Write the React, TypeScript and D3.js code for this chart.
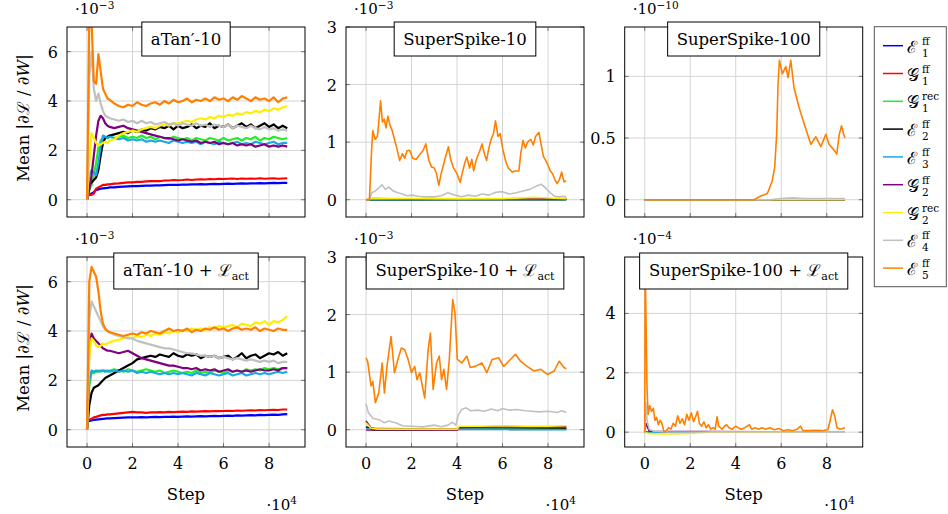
import React, { useLayoutEffect, useRef, useState } from "react";
import * as d3 from "d3";

// ---------- data ----------
const STEPS = [0, 0.1, 0.2, 0.3, 0.4, 0.5, 0.6, 0.7, 0.8, 0.9, 1.0, 1.2, 1.4, 1.6, 1.8, 2.0, 2.2, 2.4, 2.6, 2.8, 3.0, 3.2, 3.4, 3.6, 3.8, 4.0, 4.2, 4.4, 4.6, 4.8, 5.0, 5.2, 5.4, 5.6, 5.8, 6.0, 6.2, 6.4, 6.6, 6.8, 7.0, 7.2, 7.4, 7.6, 7.8, 8.0, 8.2, 8.4, 8.6, 8.8];

const SERIES_LETTERS = ["ℰ", "𝒢", "𝒢", "ℰ", "ℰ", "𝒢", "𝒢", "ℰ", "ℰ"];
const SERIES_SUP = ["ff", "ff", "rec", "ff", "ff", "ff", "rec", "ff", "ff"];
const SERIES_SUB = ["1", "1", "1", "2", "3", "2", "2", "4", "5"];
const SERIES_COLORS = ["#0000ff", "#ff0000", "#22ee22", "#000000", "#1aa7e8", "#800080", "#ffee00", "#c0c0c0", "#ff8000"];

const X_TICKS = [0, 2, 4, 6, 8];

// aTan'-10 (values on STEPS, ×1e-3)
const A1_E1 = [0.15, 0.2, 0.25, 0.3, 0.4, 0.42, 0.45, 0.46, 0.47, 0.48, 0.5, 0.5, 0.52, 0.53, 0.54, 0.55, 0.55, 0.56, 0.57, 0.57, 0.58, 0.58, 0.59, 0.6, 0.6, 0.6, 0.61, 0.61, 0.62, 0.62, 0.63, 0.62, 0.63, 0.64, 0.63, 0.64, 0.65, 0.64, 0.65, 0.66, 0.65, 0.66, 0.66, 0.67, 0.66, 0.67, 0.68, 0.67, 0.68, 0.68];
const A1_G1 = [0.15, 0.2, 0.2, 0.25, 0.45, 0.5, 0.55, 0.6, 0.6, 0.62, 0.62, 0.65, 0.66, 0.68, 0.7, 0.7, 0.72, 0.72, 0.74, 0.75, 0.76, 0.75, 0.78, 0.78, 0.8, 0.79, 0.8, 0.82, 0.8, 0.82, 0.83, 0.82, 0.84, 0.83, 0.85, 0.84, 0.85, 0.86, 0.84, 0.86, 0.85, 0.86, 0.85, 0.87, 0.85, 0.86, 0.87, 0.85, 0.86, 0.87];
const A1_G1R = [0, 0.4, 0.6, 1.0, 1.5, 2.1, 2.4, 2.5, 2.55, 2.5, 2.55, 2.5, 2.55, 2.6, 2.5, 2.55, 2.5, 2.6, 2.5, 2.55, 2.45, 2.55, 2.5, 2.45, 2.55, 2.5, 2.45, 2.5, 2.4, 2.5, 2.45, 2.4, 2.5, 2.45, 2.4, 2.5, 2.4, 2.45, 2.5, 2.4, 2.5, 2.45, 2.55, 2.4, 2.5, 2.45, 2.55, 2.5, 2.45, 2.5];
const A1_E2 = [0, 0.6, 0.7, 0.8, 0.9, 1.2, 1.8, 2.3, 2.5, 2.55, 2.6, 2.65, 2.7, 2.75, 2.7, 2.8, 2.75, 2.85, 2.8, 2.9, 2.85, 2.95, 2.9, 3.0, 2.85, 3.0, 2.9, 2.95, 3.05, 2.9, 3.0, 2.95, 3.1, 2.9, 3.0, 2.95, 3.05, 2.9, 3.0, 3.1, 2.95, 3.05, 2.9, 3.0, 3.1, 2.95, 3.05, 2.9, 3.0, 2.9];
const A1_E3 = [0, 1.0, 1.2, 1.1, 1.0, 1.5, 2.2, 2.6, 2.55, 2.5, 2.55, 2.5, 2.45, 2.5, 2.4, 2.45, 2.4, 2.45, 2.35, 2.4, 2.35, 2.4, 2.35, 2.3, 2.4, 2.35, 2.3, 2.35, 2.3, 2.35, 2.25, 2.35, 2.3, 2.25, 2.35, 2.3, 2.25, 2.3, 2.35, 2.25, 2.3, 2.25, 2.35, 2.3, 2.25, 2.3, 2.35, 2.25, 2.3, 2.3];
const A1_G2 = [0, 0.4, 1.0, 1.8, 2.6, 3.2, 3.4, 3.3, 3.1, 3.0, 2.95, 2.9, 2.95, 3.0, 2.9, 2.85, 2.8, 2.75, 2.7, 2.65, 2.6, 2.55, 2.5, 2.5, 2.45, 2.4, 2.45, 2.4, 2.35, 2.4, 2.3, 2.35, 2.3, 2.35, 2.25, 2.3, 2.25, 2.3, 2.2, 2.25, 2.2, 2.25, 2.15, 2.2, 2.25, 2.15, 2.2, 2.15, 2.2, 2.15];
const A1_G2R = [0, 1.5, 2.7, 2.5, 2.3, 2.2, 2.25, 2.3, 2.35, 2.3, 2.4, 2.45, 2.6, 2.7, 2.75, 2.8, 2.75, 2.85, 2.9, 2.95, 2.9, 3.0, 3.05, 3.0, 3.1, 3.1, 3.15, 3.2, 3.15, 3.25, 3.3, 3.25, 3.35, 3.3, 3.4, 3.35, 3.45, 3.4, 3.5, 3.45, 3.55, 3.5, 3.6, 3.55, 3.65, 3.6, 3.7, 3.65, 3.75, 3.8];
const A1_E4 = [0, 5.0, 6.0, 4.5, 4.0, 4.3, 3.9, 3.6, 3.4, 3.35, 3.3, 3.25, 3.2, 3.25, 3.15, 3.2, 3.1, 3.2, 3.1, 3.15, 3.05, 3.1, 3.15, 3.05, 3.1, 3.0, 3.1, 3.05, 3.0, 3.1, 3.0, 3.05, 2.95, 3.05, 3.0, 2.95, 3.05, 2.9, 3.0, 2.95, 2.9, 3.0, 2.9, 2.85, 2.95, 2.85, 2.9, 2.8, 2.85, 2.8];
const A1_E5 = [0, 7.4, 7.2, 4.8, 4.7, 5.9, 5.2, 4.5, 4.3, 4.1, 4.05, 3.9, 3.8, 3.75, 3.85, 3.8, 3.95, 3.85, 3.8, 3.9, 3.95, 3.85, 4.0, 3.9, 4.05, 3.95, 4.0, 4.1, 3.95, 4.05, 4.0, 4.1, 4.0, 4.15, 4.05, 4.1, 4.0, 4.15, 4.05, 4.2, 4.1, 4.0, 4.15, 4.05, 4.1, 4.0, 4.15, 3.95, 4.1, 4.15];

// aTan'-10 + L_act (values on STEPS, ×1e-3)
const A2_E1 = [0.35, 0.36, 0.38, 0.4, 0.41, 0.42, 0.43, 0.44, 0.45, 0.46, 0.46, 0.47, 0.48, 0.49, 0.5, 0.5, 0.5, 0.51, 0.5, 0.51, 0.52, 0.51, 0.52, 0.52, 0.53, 0.52, 0.53, 0.54, 0.53, 0.54, 0.55, 0.54, 0.55, 0.56, 0.55, 0.56, 0.57, 0.56, 0.58, 0.57, 0.58, 0.59, 0.58, 0.6, 0.59, 0.6, 0.61, 0.6, 0.62, 0.63];
const A2_G1 = [0.35, 0.4, 0.45, 0.5, 0.52, 0.55, 0.58, 0.6, 0.6, 0.62, 0.62, 0.64, 0.66, 0.68, 0.7, 0.72, 0.7, 0.7, 0.68, 0.7, 0.7, 0.71, 0.7, 0.72, 0.71, 0.72, 0.73, 0.72, 0.74, 0.73, 0.74, 0.75, 0.74, 0.76, 0.75, 0.76, 0.77, 0.76, 0.78, 0.77, 0.78, 0.79, 0.78, 0.8, 0.79, 0.8, 0.81, 0.8, 0.82, 0.82];
const A2_G1R = [0, 1.8, 2.3, 2.3, 2.35, 2.4, 2.35, 2.4, 2.4, 2.35, 2.4, 2.45, 2.4, 2.35, 2.45, 2.4, 2.35, 2.4, 2.45, 2.4, 2.35, 2.4, 2.3, 2.35, 2.4, 2.35, 2.3, 2.35, 2.3, 2.4, 2.3, 2.35, 2.3, 2.4, 2.35, 2.3, 2.4, 2.35, 2.4, 2.35, 2.45, 2.4, 2.45, 2.4, 2.5, 2.45, 2.5, 2.45, 2.5, 2.5];
const A2_E2 = [0, 1.0, 1.5, 1.7, 1.75, 1.8, 1.9, 2.0, 2.1, 2.15, 2.2, 2.3, 2.4, 2.5, 2.6, 2.7, 2.85, 2.9, 2.95, 3.0, 2.95, 3.05, 3.0, 2.95, 3.1, 3.0, 2.95, 3.05, 3.0, 3.05, 2.9, 3.0, 2.95, 3.0, 2.9, 2.95, 3.0, 2.85, 2.95, 3.1, 2.9, 3.0, 3.05, 2.9, 3.0, 3.1, 3.05, 3.15, 3.0, 3.1];
const A2_E3 = [0, 2.0, 2.4, 2.35, 2.4, 2.35, 2.4, 2.4, 2.35, 2.4, 2.35, 2.4, 2.35, 2.4, 2.35, 2.4, 2.3, 2.35, 2.3, 2.35, 2.3, 2.25, 2.3, 2.25, 2.3, 2.25, 2.3, 2.25, 2.2, 2.3, 2.25, 2.2, 2.3, 2.25, 2.2, 2.25, 2.3, 2.2, 2.25, 2.3, 2.2, 2.25, 2.3, 2.25, 2.3, 2.25, 2.3, 2.35, 2.3, 2.35];
const A2_G2 = [0, 3.3, 3.9, 3.7, 3.6, 3.5, 3.4, 3.3, 3.25, 3.2, 3.2, 3.15, 3.1, 3.15, 3.2, 3.1, 3.0, 2.9, 2.85, 2.8, 2.75, 2.7, 2.65, 2.6, 2.6, 2.55, 2.5, 2.5, 2.45, 2.5, 2.4, 2.45, 2.4, 2.45, 2.35, 2.4, 2.45, 2.35, 2.4, 2.35, 2.4, 2.35, 2.4, 2.45, 2.4, 2.4, 2.45, 2.4, 2.5, 2.5];
const A2_G2R = [0, 3.0, 3.7, 3.6, 3.4, 3.35, 3.4, 3.5, 3.45, 3.5, 3.55, 3.6, 3.65, 3.7, 3.75, 3.7, 3.8, 3.75, 3.85, 3.8, 3.9, 3.85, 3.95, 3.9, 4.0, 3.95, 4.05, 4.0, 4.1, 4.05, 4.1, 4.05, 4.15, 4.1, 4.2, 4.15, 4.2, 4.25, 4.15, 4.3, 4.25, 4.2, 4.35, 4.3, 4.4, 4.25, 4.4, 4.35, 4.45, 4.6];
const A2_E4 = [0, 4.5, 5.2, 5.0, 4.8, 4.6, 4.4, 4.2, 4.05, 4.0, 3.95, 3.85, 3.8, 3.75, 3.7, 3.7, 3.6, 3.55, 3.5, 3.45, 3.4, 3.35, 3.3, 3.3, 3.25, 3.2, 3.15, 3.1, 3.1, 3.05, 3.0, 3.0, 2.95, 3.0, 2.9, 2.95, 2.9, 2.85, 2.9, 2.85, 2.8, 2.85, 2.8, 2.75, 2.8, 2.75, 2.8, 2.7, 2.75, 2.75];
const A2_E5 = [0, 6.0, 6.6, 6.4, 6.2, 5.6, 4.8, 4.3, 4.1, 4.0, 3.95, 3.9, 3.85, 3.8, 3.85, 3.9, 3.85, 3.95, 3.9, 4.0, 3.95, 3.9, 4.0, 4.1, 4.0, 4.05, 4.0, 4.1, 3.95, 4.05, 4.0, 4.1, 4.05, 4.15, 4.05, 4.1, 4.0, 4.1, 4.15, 4.05, 4.1, 4.05, 4.15, 4.0, 4.1, 4.05, 4.0, 4.1, 4.05, 4.05];

// SuperSpike-10 ([step ×1e4, value ×1e-3])
const S1_E1 = [[0, 0], [4, 0.003], [8.8, 0.004]];
const S1_G1 = [[0, 0], [4, 0.004], [8.8, 0.005]];
const S1_G1R = [[0, 0], [4, 0.005], [8.8, 0.006]];
const S1_E2 = [[0, 0], [4, 0.004], [8.8, 0.005]];
const S1_E3 = [[0, 0], [4, 0.004], [8.8, 0.005]];
const S1_G2 = [[0, 0], [0.3, 0.02], [2, 0.01], [7.5, 0.02], [8.8, 0.01]];
const S1_G2R = [[0, 0], [0.2, 0.02], [2, 0.02], [4, 0.015], [6, 0.02], [7.5, 0.04], [8, 0.03], [8.8, 0.02]];
const S1_E4 = [[0, 0], [0.15, 0], [0.25, 0.12], [0.4, 0.15], [0.55, 0.2], [0.7, 0.26], [0.85, 0.18], [1.0, 0.22], [1.2, 0.15], [1.4, 0.12], [1.6, 0.1], [1.8, 0.07], [2.0, 0.08], [2.3, 0.06], [2.6, 0.05], [3.0, 0.05], [3.3, 0.07], [3.6, 0.12], [3.9, 0.08], [4.2, 0.05], [4.5, 0.08], [4.8, 0.06], [5.1, 0.1], [5.4, 0.08], [5.7, 0.13], [6.0, 0.14], [6.3, 0.1], [6.6, 0.12], [6.9, 0.15], [7.2, 0.18], [7.5, 0.24], [7.7, 0.27], [7.9, 0.2], [8.1, 0.12], [8.3, 0.06], [8.5, 0.05], [8.7, 0.06], [8.8, 0.04]];
const S1_E5 = [[0, 0], [0.15, 0], [0.25, 0.9], [0.3, 1.2], [0.4, 1.05], [0.5, 1.1], [0.55, 1.3], [0.64, 1.72], [0.72, 1.35], [0.8, 1.4], [0.88, 1.25], [0.96, 1.45], [1.05, 1.3], [1.15, 1.2], [1.25, 1.05], [1.35, 0.9], [1.48, 0.68], [1.6, 0.8], [1.7, 0.72], [1.8, 0.85], [1.92, 0.86], [2.05, 0.72], [2.2, 0.7], [2.35, 0.78], [2.5, 0.85], [2.63, 0.97], [2.75, 0.7], [2.88, 0.57], [3.0, 0.55], [3.1, 0.45], [3.2, 0.25], [3.3, 0.45], [3.4, 0.6], [3.5, 0.75], [3.62, 0.92], [3.72, 0.7], [3.85, 0.55], [4.0, 0.45], [4.14, 0.3], [4.25, 0.5], [4.35, 0.65], [4.43, 0.74], [4.55, 0.55], [4.65, 0.7], [4.73, 0.5], [4.85, 0.7], [5.0, 0.85], [5.1, 0.97], [5.2, 0.8], [5.3, 0.68], [5.4, 0.9], [5.5, 1.05], [5.6, 1.15], [5.69, 1.37], [5.8, 1.1], [5.9, 1.15], [6.0, 0.9], [6.13, 0.68], [6.25, 0.55], [6.43, 0.48], [6.55, 0.5], [6.72, 0.5], [6.8, 0.8], [6.9, 1.03], [7.0, 0.9], [7.1, 1.0], [7.24, 1.05], [7.35, 0.95], [7.45, 1.1], [7.6, 1.17], [7.7, 0.95], [7.8, 0.75], [7.9, 0.68], [8.0, 0.6], [8.1, 0.5], [8.2, 0.45], [8.3, 0.35], [8.4, 0.28], [8.5, 0.35], [8.6, 0.48], [8.7, 0.31], [8.8, 0.33]];

// SuperSpike-10 + L_act ([step ×1e4, value ×1e-3])
const S2_E1 = [[0, 0], [4.0, 0.0], [4.1, 0.02], [8.8, 0.03]];
const S2_G1 = [[0, 0], [4.0, 0.0], [4.1, 0.02], [8.8, 0.02]];
const S2_G1R = [[0, 0.02], [4.0, 0.01], [4.1, 0.03], [8.8, 0.03]];
const S2_E2 = [[0, 0.05], [0.3, 0.0], [8.8, 0.01]];
const S2_E3 = [[0, 0.02], [8.8, 0.0]];
const S2_G2 = [[0, 0.15], [0.2, 0.04], [0.5, 0.01], [4.0, 0.01], [4.1, 0.04], [6, 0.05], [8.8, 0.05]];
const S2_G2R = [[0, 0.12], [0.2, 0.03], [0.5, 0.01], [4.0, 0.01], [4.1, 0.06], [5, 0.06], [6, 0.07], [7, 0.06], [8, 0.06], [8.8, 0.07]];
const S2_E4 = [[0, 0.45], [0.1, 0.3], [0.3, 0.2], [0.6, 0.17], [0.8, 0.12], [1.0, 0.15], [1.3, 0.12], [1.6, 0.07], [2.0, 0.06], [2.5, 0.05], [3.0, 0.08], [3.3, 0.05], [3.6, 0.08], [3.8, 0.13], [3.95, 0.08], [4.05, 0.25], [4.2, 0.35], [4.4, 0.38], [4.6, 0.33], [4.9, 0.34], [5.2, 0.32], [5.5, 0.36], [5.8, 0.33], [6.0, 0.37], [6.3, 0.34], [6.6, 0.35], [7.0, 0.33], [7.3, 0.32], [7.6, 0.31], [8.0, 0.32], [8.4, 0.3], [8.6, 0.33], [8.8, 0.3]];
const S2_E5 = [[0, 1.25], [0.07, 1.19], [0.22, 0.76], [0.3, 0.84], [0.41, 0.47], [0.56, 0.64], [0.71, 1.16], [0.81, 0.64], [0.92, 1.1], [1.1, 1.62], [1.25, 0.99], [1.4, 1.22], [1.55, 1.42], [1.7, 1.39], [1.85, 1.22], [2.0, 0.99], [2.14, 1.1], [2.24, 0.87], [2.36, 0.99], [2.58, 0.55], [2.73, 1.39], [2.83, 1.68], [2.95, 0.7], [3.1, 1.16], [3.22, 1.28], [3.32, 0.87], [3.42, 1.05], [3.54, 0.7], [3.66, 1.22], [3.81, 2.26], [3.91, 2.03], [4.01, 1.22], [4.21, 1.16], [4.43, 1.28], [4.58, 1.08], [4.8, 1.1], [5.09, 1.16], [5.31, 0.99], [5.54, 1.22], [5.83, 1.25], [6.05, 1.1], [6.27, 1.19], [6.57, 1.31], [6.79, 1.19], [7.08, 1.1], [7.38, 1.02], [7.68, 1.05], [7.97, 0.96], [8.27, 1.02], [8.49, 1.19], [8.7, 1.08], [8.8, 1.06]];

// SuperSpike-100 ([step ×1e4, value ×1e-10])
const S3_ZERO = [[0, 0], [8.8, 0]];
const S3_E4 = [[0, 0], [5.5, 0], [6, 0.01], [6.5, 0.015], [7, 0.01], [8.8, 0.01]];
const S3_E5 = [[0, 0], [4.8, 0], [5.1, 0.03], [5.39, 0.05], [5.6, 0.15], [5.71, 0.26], [5.8, 0.53], [5.86, 0.94], [5.92, 1.13], [6.05, 1.02], [6.2, 1.08], [6.3, 0.99], [6.42, 1.13], [6.56, 0.91], [6.78, 0.75], [7.0, 0.62], [7.3, 0.45], [7.52, 0.51], [7.74, 0.43], [7.96, 0.53], [8.1, 0.45], [8.33, 0.4], [8.44, 0.37], [8.55, 0.53], [8.65, 0.6], [8.74, 0.53], [8.8, 0.5]];

// SuperSpike-100 + L_act ([step ×1e4, value ×1e-4])
const S4_ZERO = [[0, 0], [8.8, 0]];
const S4_G2 = [[0, 0], [0.05, 0.3], [0.2, 0.03], [8.8, 0]];
const S4_G2R = [[0, 0], [0.2, -0.05], [1, -0.06], [2, -0.04], [2.5, -0.02], [3, 0], [8.8, 0]];
const S4_E4 = [[0, 0], [0.05, 1.0], [0.1, 0.4], [0.2, 0.1], [0.4, 0.03], [1, 0.01], [8.8, 0.0]];
const S4_E5 = [[0, 0], [0.02, 5.8], [0.1, 1.5], [0.15, 0.6], [0.22, 0.9], [0.3, 0.7], [0.38, 0.8], [0.45, 0.4], [0.52, 0.5], [0.6, 0.25], [0.68, 0.4], [0.75, 0.3], [0.85, 0.0], [0.95, 0.05], [1.05, 0.15], [1.15, 0.1], [1.25, 0.3], [1.35, 0.2], [1.45, 0.55], [1.55, 0.3], [1.65, 0.45], [1.75, 0.25], [1.85, 0.6], [1.95, 0.4], [2.05, 0.65], [2.15, 0.35], [2.25, 0.55], [2.32, 0.7], [2.4, 0.3], [2.5, 0.2], [2.6, 0.35], [2.7, 0.15], [2.8, 0.25], [2.9, 0.1], [3.0, 0.15], [3.1, 0.1], [3.18, 0.52], [3.25, 0.2], [3.4, 0.1], [3.5, 0.2], [3.6, 0.25], [3.7, 0.15], [3.85, 0.1], [4.0, 0.2], [4.1, 0.15], [4.25, 0.1], [4.4, 0.15], [4.6, 0.25], [4.7, 0.1], [4.85, 0.15], [5.0, 0.1], [5.15, 0.15], [5.3, 0.1], [5.5, 0.15], [5.7, 0.08], [5.9, 0.12], [6.1, 0.05], [6.3, 0.08], [6.5, 0.05], [6.7, 0.1], [6.85, 0.2], [6.95, 0.05], [7.2, 0.05], [7.5, 0.06], [7.8, 0.05], [8.05, 0.08], [8.15, 0.4], [8.25, 0.75], [8.35, 0.55], [8.45, 0.15], [8.6, 0.1], [8.8, 0.15]];

const onSteps = (vals: number[]) => STEPS.map((s, i) => [s, vals[i]]);

const PANELS = [
  { title: "aTan′-10", act: false, exp: "−3", yDomain: [-0.7, 7.0], yTicks: [0, 2, 4, 6], yLabels: ["0", "2", "4", "6"], row: 0, col: 0, sw: 2.2,
    series: [A1_E1, A1_G1, A1_G1R, A1_E2, A1_E3, A1_G2, A1_G2R, A1_E4, A1_E5].map(onSteps) },
  { title: "SuperSpike-10", act: false, exp: "−3", yDomain: [-0.3, 3.0], yTicks: [0, 1, 2, 3], yLabels: ["0", "1", "2", "3"], row: 0, col: 1, sw: 1.6,
    series: [S1_E1, S1_G1, S1_G1R, S1_E2, S1_E3, S1_G2, S1_G2R, S1_E4, S1_E5] },
  { title: "SuperSpike-100", act: false, exp: "−10", yDomain: [-0.14, 1.4], yTicks: [0, 0.5, 1], yLabels: ["0", "0.5", "1"], row: 0, col: 2, sw: 1.6,
    series: [S3_ZERO, S3_ZERO, S3_ZERO, S3_ZERO, S3_ZERO, S3_ZERO, S3_ZERO, S3_E4, S3_E5] },
  { title: "aTan′-10 + ", act: true, exp: "−3", yDomain: [-0.7, 7.0], yTicks: [0, 2, 4, 6], yLabels: ["0", "2", "4", "6"], row: 1, col: 0, sw: 2.2,
    series: [A2_E1, A2_G1, A2_G1R, A2_E2, A2_E3, A2_G2, A2_G2R, A2_E4, A2_E5].map(onSteps) },
  { title: "SuperSpike-10 + ", act: true, exp: "−3", yDomain: [-0.3, 3.0], yTicks: [0, 1, 2, 3], yLabels: ["0", "1", "2", "3"], row: 1, col: 1, sw: 1.6,
    series: [S2_E1, S2_G1, S2_G1R, S2_E2, S2_E3, S2_G2, S2_G2R, S2_E4, S2_E5] },
  { title: "SuperSpike-100 + ", act: true, exp: "−4", yDomain: [-0.5, 5.9], yTicks: [0, 2, 4], yLabels: ["0", "2", "4"], row: 1, col: 2, sw: 1.6,
    series: [S4_ZERO, S4_ZERO, S4_ZERO, S4_ZERO, S4_ZERO, S4_G2, S4_G2R, S4_E4, S4_E5] },
];

// ---------- layout ----------
const W = 948, H = 514;
const COL_X = [67, 346, 624.7];
const ROW_Y = [27, 257];
const PW = 238, PH = 190;
const X_DOMAIN = [-0.88, 9.58];
const FONT = "'DejaVu Serif', serif";

function TitleBox({ cx, top, text, act }: { cx: number; top: number; text: string; act: boolean }) {
  const ref = useRef<SVGTextElement>(null);
  const [w, setW] = useState(120);
  useLayoutEffect(() => {
    if (ref.current) setW(ref.current.getBBox().width);
  }, [text]);
  const bw = w + 18;
  const bh = act ? 36 : 34;
  return (
    <g>
      <rect x={cx - bw / 2} y={top} width={bw} height={bh} fill="#fff" stroke="#000" strokeWidth={1} />
      <text ref={ref} x={cx} y={top + 23} textAnchor="middle" fontFamily={FONT} fontSize={16.5}>
        {text}
        {act && <tspan>ℒ</tspan>}
        {act && <tspan fontSize={11} dy={4}>act</tspan>}
      </text>
    </g>
  );
}

function Panel({ p, idx }: { p: any; idx: number }) {
  const x0 = COL_X[p.col], y0 = ROW_Y[p.row];
  const x = d3.scaleLinear().domain(X_DOMAIN).range([x0, x0 + PW]);
  const y = d3.scaleLinear().domain(p.yDomain).range([y0 + PH, y0]);
  const line = d3.line<number[]>().x(d => x(d[0])).y(d => y(d[1]));
  const clipId = `clip${idx}`;
  const tl = 4;
  return (
    <g>
      <defs>
        <clipPath id={clipId}>
          <rect x={x0} y={y0} width={PW} height={PH} />
        </clipPath>
      </defs>
      {X_TICKS.map(t => (
        <g key={"xg" + t}>
          <line x1={x(t)} x2={x(t)} y1={y0} y2={y0 + PH} stroke="#d4d4d4" strokeWidth={1} />
          <line x1={x(t)} x2={x(t)} y1={y0 + PH} y2={y0 + PH - tl} stroke="#777" strokeWidth={1} />
          <line x1={x(t)} x2={x(t)} y1={y0} y2={y0 + tl} stroke="#777" strokeWidth={1} />
        </g>
      ))}
      {p.yTicks.map((t: number, i: number) => (
        <g key={"yg" + t}>
          <line x1={x0} x2={x0 + PW} y1={y(t)} y2={y(t)} stroke="#d4d4d4" strokeWidth={1} />
          <line x1={x0} x2={x0 + tl} y1={y(t)} y2={y(t)} stroke="#777" strokeWidth={1} />
          <line x1={x0 + PW} x2={x0 + PW - tl} y1={y(t)} y2={y(t)} stroke="#777" strokeWidth={1} />
          <text x={x0 - 9} y={y(t) + 6} textAnchor="end" fontFamily={FONT} fontSize={16}>{p.yLabels[i]}</text>
        </g>
      ))}
      <g clipPath={`url(#${clipId})`}>
        {p.series.map((s: number[][], i: number) => (
          <path key={i} d={line(s) || ""} fill="none" stroke={SERIES_COLORS[i]} strokeWidth={p.sw} strokeLinejoin="round" />
        ))}
      </g>
      <rect x={x0} y={y0} width={PW} height={PH} fill="none" stroke="#000" strokeWidth={1} />
      <text x={x0 + 8} y={y0 - 13} fontFamily={FONT} fontSize={15}>
        ·10<tspan fontSize={10.5} dy={-5.5}>{p.exp}</tspan>
      </text>
      <TitleBox cx={x0 + PW / 2} top={y0 - (p.act ? 4 : 5)} text={p.title} act={p.act} />
      {p.row === 1 && (
        <g>
          {X_TICKS.map(t => (
            <text key={"xl" + t} x={x(t)} y={469} textAnchor="middle" fontFamily={FONT} fontSize={16}>{t}</text>
          ))}
          <text x={x0 + PW / 2} y={500} textAnchor="middle" fontFamily={FONT} fontSize={16.5}>Step</text>
          <text x={x0 + PW - 8} y={510} textAnchor="end" fontFamily={FONT} fontSize={15}>
            ·10<tspan fontSize={10.5} dy={-6}>4</tspan>
          </text>
        </g>
      )}
      {p.col === 0 && (
        <text transform={`translate(${29},${y0 + PH / 2 - 4}) rotate(-90)`} textAnchor="middle" fontFamily={FONT} fontSize={16.5}>
          Mean |∂ℒ / ∂<tspan fontStyle="italic">W</tspan>|
        </text>
      )}
    </g>
  );
}

function Legend() {
  const lx = 874.3, ly = 26.7, lw = 72, lh = 260;
  return (
    <g>
      <rect x={lx} y={ly} width={lw} height={lh} fill="#fff" stroke="#555" strokeWidth={1} />
      {SERIES_COLORS.map((c, i) => {
        const cy = 45.7 + i * 27.8;
        return (
          <g key={i}>
            <line x1={883} x2={903} y1={cy} y2={cy} stroke={c} strokeWidth={1.5} />
            <text x={907} y={cy + 7} fontFamily={FONT} fontSize={17}>{SERIES_LETTERS[i]}</text>
            <text x={922} y={cy - 1} fontFamily={FONT} fontSize={10.5}>{SERIES_SUP[i]}</text>
            <text x={922} y={cy + 11} fontFamily={FONT} fontSize={10.5}>{SERIES_SUB[i]}</text>
          </g>
        );
      })}
    </g>
  );
}

export default function App() {
  return (
    <svg width={W} height={H} style={{ position: "absolute", left: 0, top: 0, background: "#fff" }}>
      <rect x={0} y={0} width={W} height={H} fill="#fff" />
      {PANELS.map((p, i) => <Panel key={i} p={p} idx={i} />)}
      <Legend />
    </svg>
  );
}
